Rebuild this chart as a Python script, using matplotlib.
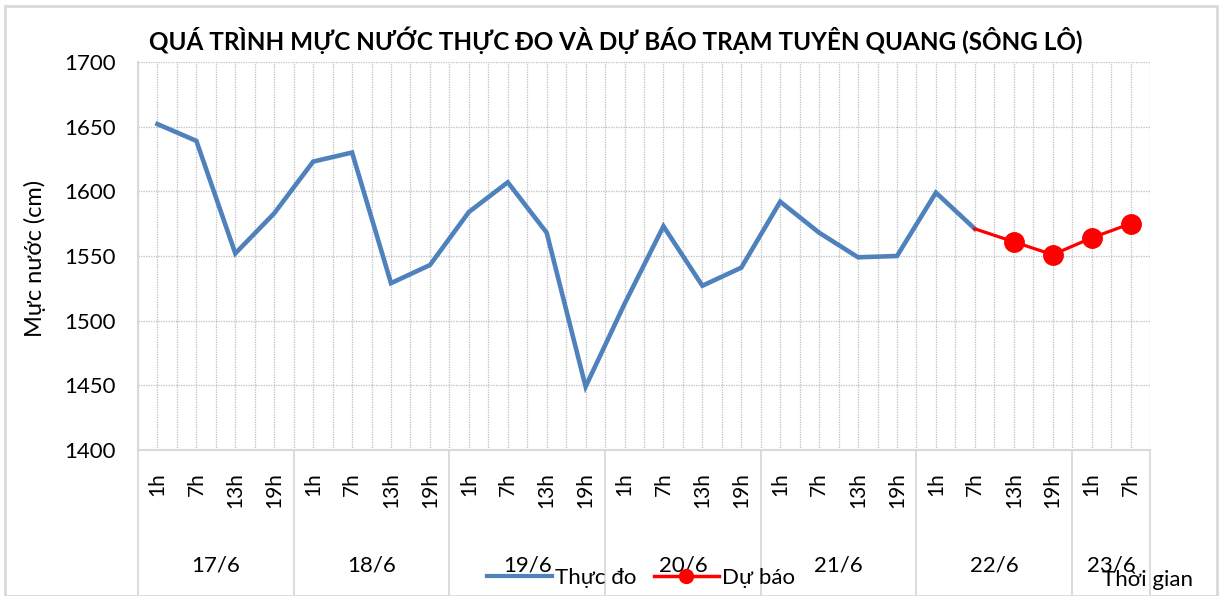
import matplotlib
matplotlib.use("Agg")
import matplotlib.pyplot as plt
import matplotlib.transforms as mtransforms
from matplotlib.lines import Line2D
from matplotlib.patches import Rectangle

plt.rcParams['font.family'] = ['Lato', 'DejaVu Sans']

# ---- data ----
dates = ["17/6", "18/6", "19/6", "20/6", "21/6", "22/6", "23/6"]
hours_per_day = [4, 4, 4, 4, 4, 4, 2]
hour_names = ["1h", "7h", "13h", "19h"]
observed = [1652, 1639, 1552, 1583,
            1623, 1630, 1529, 1543,
            1584, 1607, 1568, 1449,
            1513, 1573, 1527, 1541,
            1592, 1568, 1549, 1550,
            1599, 1571]
forecast_start = 21  # index of 22/6 7h
forecast = [1571, 1561, 1551, 1564, 1575]

title = "QUÁ TRÌNH MỰC NƯỚC THỰC ĐO VÀ DỰ BÁO TRẠM TUYÊN QUANG (SÔNG LÔ)"
ylabel = "Mực nước (cm)"
xlabel = "Thời gian"
obs_label = "Thực đo"
fc_label = "Dự báo"

blue = "#4F81BD"
red = "#FF0000"
grid_c = "#BFBFBF"
axis_c = "#D9D9D9"

hour_labels = []
for n in hours_per_day:
    hour_labels += hour_names[:n]
n_cat = len(hour_labels)

W, H = 1222, 596
fig = plt.figure(figsize=(W / 100, H / 100), dpi=100)
x0, x1, ytop, ybot = 138, 1150, 62, 450
ax = fig.add_axes([x0 / W, (H - ybot) / H, (x1 - x0) / W, (ybot - ytop) / H])

xs_obs = list(range(len(observed)))
xs_fc = list(range(forecast_start, forecast_start + len(forecast)))
ax.plot(xs_obs, observed, color=blue, lw=3.3, solid_joinstyle='miter', zorder=3)
ax.plot(xs_fc, forecast, color=red, lw=2.3, zorder=4)
ax.plot(xs_fc[1:], forecast[1:], 'o', color=red, ms=14, zorder=5)

ax.set_xlim(-0.5, n_cat - 0.5)
ax.set_ylim(1400, 1700)
ax.set_yticks(range(1400, 1701, 50))
ax.set_xticks(range(n_cat))
ax.set_xticks([i + 0.5 for i in range(-1, n_cat)], minor=True)
ax.set_xticklabels(hour_labels, rotation=90, va='top', ha='center', fontsize=15)
ax.tick_params(axis='x', which='both', length=0, pad=16)
ax.tick_params(axis='y', length=0, pad=16, labelsize=16)
ax.grid(True, which='major', color=grid_c, ls=(0, (1, 1)), lw=0.9)
ax.grid(True, which='minor', axis='x', color=grid_c, ls=(0, (1, 1)), lw=0.9)
for s in ['top', 'right']:
    ax.spines[s].set_visible(False)
for s in ['left', 'bottom']:
    ax.spines[s].set_color(axis_c)
    ax.spines[s].set_linewidth(1.5)
ax.set_axisbelow(True)

# date group labels and separators
trans = mtransforms.blended_transform_factory(ax.transData, ax.transAxes)
bottom_frac = -(H - ybot) / (ybot - ytop)
start = 0
bounds = [-0.5]
for d, n in zip(dates, hours_per_day):
    center = start + (n - 1) / 2
    ax.text(center, -(565 - ybot) / (ybot - ytop), d, transform=trans,
            ha='center', va='center', fontsize=16)
    start += n
    bounds.append(start - 0.5)
for b in bounds:
    ax.plot([b, b], [0, bottom_frac], transform=trans, color=axis_c,
            lw=1.3, clip_on=False)

# title & labels
fig.text(616 / W, 1 - 40 / H, title, ha='center', va='center',
         fontsize=17.5, fontweight='bold')
fig.text(35 / W, 1 - 258 / H, ylabel, rotation=90, ha='center', va='center',
         fontsize=17)
fig.text(1148 / W, 1 - 580 / H, xlabel, ha='center', va='center', fontsize=16)

# legend
handles = [Line2D([], [], color=blue, lw=3),
           Line2D([], [], color=red, lw=2.5, marker='o', ms=10)]
fig.legend(handles, [obs_label, fc_label], loc='center',
           bbox_to_anchor=(641 / W, 1 - 578 / H), ncol=2, frameon=False,
           fontsize=16, handlelength=2.9, handletextpad=0.15,
           columnspacing=0.8, borderpad=0)

# outer border
fig.patches.append(Rectangle((5 / W, 0), 1212 / W, 1 - 6 / H,
                             transform=fig.transFigure, fill=False,
                             edgecolor=axis_c, lw=2))

fig.savefig("out.png", dpi=100)
